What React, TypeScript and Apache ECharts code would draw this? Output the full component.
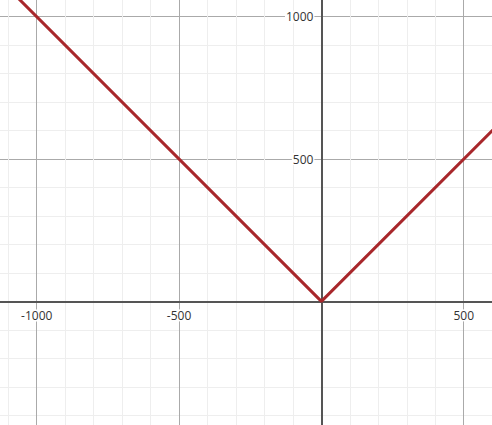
import React, { useEffect, useRef } from "react";
import * as echarts from "echarts";

// y = |x| sampled at the visible ends and the vertex
const xValues = [-1200, 0, 700];
const yValues = [1200, 0, 700];

const xTickLabels = ["-1000", "-500", "500"];
const yTickLabels = ["500", "1000"];

const S = 0.2847; // px per unit
const X0 = 321.4;
const Y0 = 301.4;

export default function App() {
  const ref = useRef<HTMLDivElement>(null);
  useEffect(() => {
    if (!ref.current) return;
    const chart = echarts.init(ref.current, null, { renderer: "svg" });
    const xMin = -1500, xMax = 1000, yMin = -500, yMax = 1500;
    const left = X0 + xMin * S;
    const right = 492 - (X0 + xMax * S);
    const top = Y0 - yMax * S;
    const bottom = 425 - (Y0 - yMin * S);
    const gridBottomPx = Y0 - yMin * S;
    const gridLeftPx = left;
    const labelStyle = {
      color: "#333",
      fontSize: 12,
      fontFamily: "Open Sans, sans-serif",
      backgroundColor: "#fff",
      padding: [0, 1],
    };
    chart.setOption({
      animation: false,
      backgroundColor: "#fff",
      grid: { left, right, top, bottom, containLabel: false, outerBoundsMode: "none" },
      xAxis: {
        type: "value",
        min: xMin,
        max: xMax,
        interval: 500,
        position: "bottom",
        offset: -(gridBottomPx - Y0),
        axisLine: { onZero: false, lineStyle: { color: "#555", width: 2 } },
        axisTick: { show: false },
        axisLabel: {
          ...labelStyle,
          margin: 8,
          formatter: (v: number) => (xTickLabels.includes(String(v)) ? String(v) : ""),
        },
        splitLine: { show: true, lineStyle: { color: "#aaa", width: 1 } },
        minorTick: { show: false, splitNumber: 5 },
        minorSplitLine: { show: true, lineStyle: { color: "#eeeeee", width: 1 } },
      },
      yAxis: {
        type: "value",
        min: yMin,
        max: yMax,
        interval: 500,
        position: "left",
        offset: -(X0 - gridLeftPx),
        axisLine: { onZero: false, lineStyle: { color: "#555", width: 2 } },
        axisTick: { show: false },
        axisLabel: {
          ...labelStyle,
          margin: 7,
          formatter: (v: number) => (yTickLabels.includes(String(v)) ? String(v) : ""),
        },
        splitLine: { show: true, lineStyle: { color: "#aaa", width: 1 } },
        minorTick: { show: false, splitNumber: 5 },
        minorSplitLine: { show: true, lineStyle: { color: "#eeeeee", width: 1 } },
      },
      series: [
        {
          type: "line",
          data: xValues.map((x, i) => [x, yValues[i]]),
          showSymbol: false,
          clip: true,
          lineStyle: { color: "#a8272b", width: 3 },
          z: 1,
        },
      ],
    });
    return () => chart.dispose();
  }, []);
  return (
    <div
      ref={ref}
      style={{ position: "fixed", left: 0, top: 0, width: 492, height: 425 }}
    />
  );
}
